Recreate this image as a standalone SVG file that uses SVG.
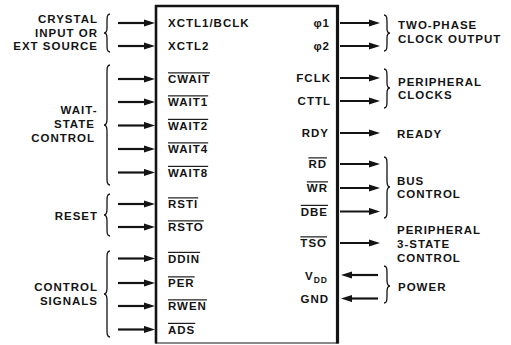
<svg xmlns="http://www.w3.org/2000/svg" width="511" height="345" viewBox="0 0 511 345">
<style>
text{font-family:"Liberation Sans",Arial,Helvetica,sans-serif;font-weight:bold;font-size:11.5px;letter-spacing:1px;fill:#141414}
.e{text-anchor:end}
.ov{text-decoration:overline}
.ar{stroke:#141414;stroke-width:2.2;fill:none}
.br{stroke:#141414;stroke-width:1.3;fill:none}
.edge{stroke:#141414;fill:none}
</style>
<defs>
<marker id="ah" markerUnits="userSpaceOnUse" markerWidth="12" markerHeight="8" refX="6" refY="3.6" orient="auto">
<path d="M0,0 L11,3.6 L0,7.2 z" fill="#141414"/>
</marker>
</defs>
<rect width="511" height="345" fill="#fff"/>

<g id="chip">
<rect x="156" y="6" width="182" height="337" fill="#fff" stroke="#141414" stroke-width="1"/>
<line class="edge" x1="156" y1="5" x2="156" y2="343.5" stroke-width="2.6"/>
<line class="edge" x1="337.5" y1="5" x2="337.5" y2="343.5" stroke-width="3.2"/>
<line class="edge" x1="155" y1="6" x2="339" y2="6" stroke-width="2.4"/>
</g>

<g id="pins-left">
<text x="168" y="27.3">XCTL1/BCLK</text>
<text x="168" y="50.3">XCTL2</text>
<text x="168" y="83.3" class="ov">CWAIT</text>
<text x="168" y="106.3" class="ov">WAIT1</text>
<text x="168" y="129.8" class="ov">WAIT2</text>
<text x="168" y="153.3" class="ov">WAIT4</text>
<text x="168" y="176.8" class="ov">WAIT8</text>
<text x="168" y="208.3" class="ov">RSTI</text>
<text x="168" y="231.3" class="ov">RSTO</text>
<text x="168" y="262.8" class="ov">DDIN</text>
<text x="168" y="287.3" class="ov">PER</text>
<text x="168" y="310.3" class="ov">RWEN</text>
<text x="168" y="333.8" class="ov">ADS</text>
</g>

<g id="pins-right">
<text x="330" y="27.3" class="e">φ1</text>
<text x="330" y="50.3" class="e">φ2</text>
<text x="331" y="82.3" class="e">FCLK</text>
<text x="331" y="105.3" class="e">CTTL</text>
<text x="329" y="137.3" class="e">RDY</text>
<text x="327" y="168.3" class="e ov">RD</text>
<text x="328" y="192.3" class="e ov">WR</text>
<text x="328" y="215.8" class="e ov">DBE</text>
<text x="327" y="247.3" class="e ov">TSO</text>
<text x="328" y="279.5" class="e">V<tspan font-size="8.5" dy="3">DD</tspan></text>
<text x="329" y="302.8" class="e">GND</text>
</g>

<g id="group-labels-left">
<text x="98" y="23.3" class="e">CRYSTAL</text>
<text x="98" y="36.7" class="e">INPUT OR</text>
<text x="98" y="50" class="e">EXT SOURCE</text>
<text x="97.5" y="114" class="e">WAIT-</text>
<text x="95" y="128" class="e">STATE</text>
<text x="95" y="141.7" class="e">CONTROL</text>
<text x="98" y="220" class="e">RESET</text>
<text x="98" y="290.7" class="e">CONTROL</text>
<text x="98" y="305" class="e">SIGNALS</text>
</g>

<g id="group-labels-right">
<text x="398" y="29.3">TWO-PHASE</text>
<text x="398" y="43.3">CLOCK OUTPUT</text>
<text x="398" y="86">PERIPHERAL</text>
<text x="398" y="99.3">CLOCKS</text>
<text x="397" y="138">READY</text>
<text x="397" y="185">BUS</text>
<text x="397" y="198.3">CONTROL</text>
<text x="397" y="234">PERIPHERAL</text>
<text x="397" y="248">3-STATE</text>
<text x="397" y="261.7">CONTROL</text>
<text x="398" y="290.7">POWER</text>
</g>

<g id="connectors">
<g class="ar" marker-end="url(#ah)">
<line x1="118" y1="23" x2="150" y2="23"/>
<line x1="118" y1="46" x2="150" y2="46"/>
<line x1="118" y1="79" x2="150" y2="79"/>
<line x1="118" y1="102" x2="150" y2="102"/>
<line x1="118" y1="125.5" x2="150" y2="125.5"/>
<line x1="118" y1="149" x2="150" y2="149"/>
<line x1="118" y1="172.5" x2="150" y2="172.5"/>
<line x1="118" y1="204" x2="150" y2="204"/>
<line x1="118" y1="227" x2="150" y2="227"/>
<line x1="118" y1="258.5" x2="150" y2="258.5"/>
<line x1="118" y1="283" x2="150" y2="283"/>
<line x1="118" y1="306" x2="150" y2="306"/>
<line x1="118" y1="329.5" x2="150" y2="329.5"/>
<line x1="340" y1="23" x2="375" y2="23"/>
<line x1="340" y1="46" x2="375" y2="46"/>
<line x1="340" y1="78" x2="375" y2="78"/>
<line x1="340" y1="101" x2="375" y2="101"/>
<line x1="340" y1="133" x2="375" y2="133"/>
<line x1="340" y1="164" x2="375" y2="164"/>
<line x1="340" y1="188" x2="375" y2="188"/>
<line x1="340" y1="211.5" x2="375" y2="211.5"/>
<line x1="340" y1="243" x2="375" y2="243"/>
<line x1="378" y1="275" x2="346" y2="275"/>
<line x1="378" y1="298.5" x2="346" y2="298.5"/>
</g>
</g>

<g id="braces">
<path class="br" d="M110,14 C107,14 107,17 107,22 L107,28 C107,31 106,33 104,33 C106,33 107,35 107,38 L107,44 C107,49 107,52 110,52"/>
<path class="br" d="M110,65 C107,65 107,68 107,74 L107,119 C107,123 106,125 104,125 C106,125 107,127 107,131 L107,176 C107,182 107,185 110,185"/>
<path class="br" d="M110,194 C107,194 107,197 107,202 L107,209 C107,213 106,215 104,215 C106,215 107,217 107,221 L107,228 C107,233 107,236 110,236"/>
<path class="br" d="M110,251 C107,251 107,254 107,260 L107,288 C107,292 106,294 104,294 C106,294 107,296 107,300 L107,328 C107,334 107,337 110,337"/>
<path class="br" d="M384,15 C387,15 387,18 387,23 L387,29 C387,32 388,33 390,33 C388,33 387,35 387,38 L387,43 C387,48 387,51 384,51"/>
<path class="br" d="M384,69 C387,69 387,72 387,77 L387,83 C387,86 388,88 390,88 C388,88 387,90 387,93 L387,100 C387,105 387,108 384,108"/>
<path class="br" d="M384,157 C387,157 387,160 387,166 L387,181 C387,185 388,187 390,187 C388,187 387,189 387,193 L387,209 C387,215 387,218 384,218"/>
<path class="br" d="M384,266 C387,266 387,269 387,274 L387,280 C387,284 388,286 390,286 C388,286 387,288 387,292 L387,295 C387,300 387,303 384,303"/>
</g>
</svg>
